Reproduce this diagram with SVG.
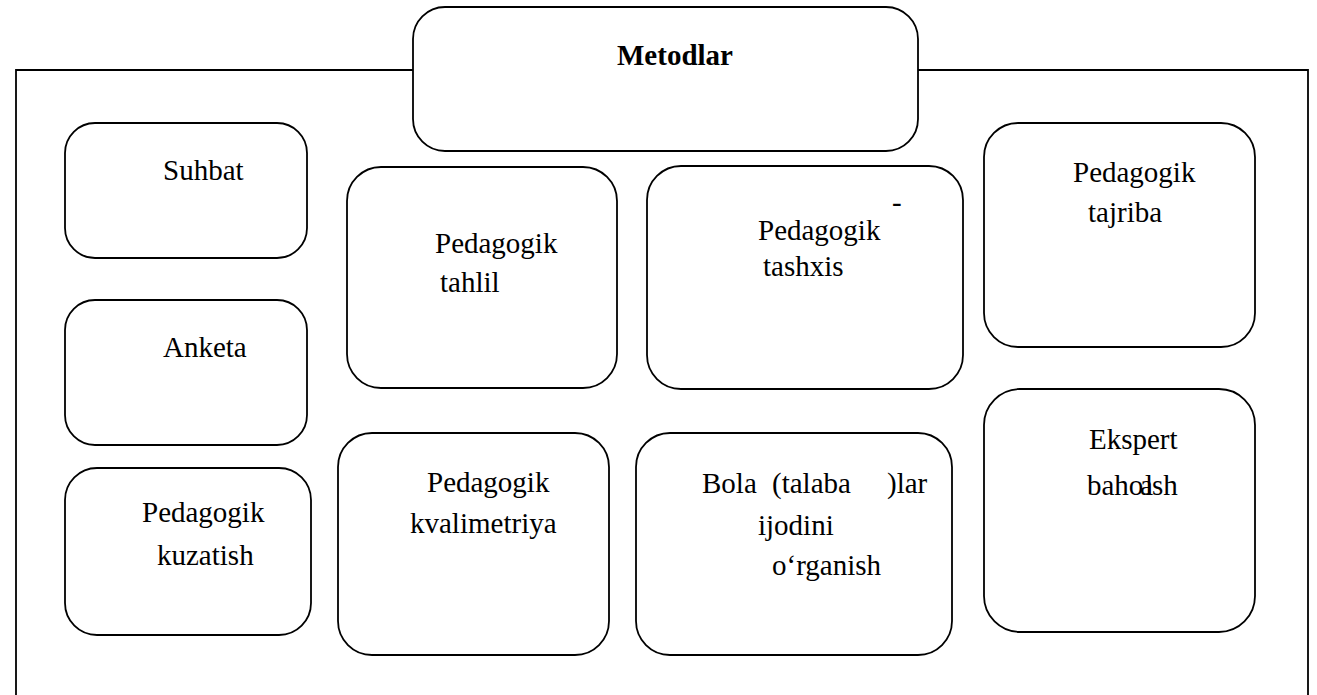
<svg xmlns="http://www.w3.org/2000/svg" width="1317" height="695" viewBox="0 0 1317 695">
<style>
.box{fill:#fff;stroke:#000;stroke-width:1.8}
.frame{fill:none;stroke:#000;stroke-width:1.8}
text{font-family:"Liberation Serif","Times New Roman",serif;font-size:29px;fill:#000}
.b{font-weight:bold}
</style>
<rect width="1317" height="695" fill="#fff"/>
<g id="connectors">
<polyline class="frame" points="413,70 16,70 16,695"/>
<polyline class="frame" points="918,70 1308,70 1308,695"/>
</g>
<g id="metodlar">
<rect class="box" x="413" y="7" width="505" height="144" rx="32"/>
<text class="b" x="617" y="65">Metodlar</text>
</g>
<g id="suhbat">
<rect class="box" x="65" y="123" width="242" height="135" rx="30"/>
<text x="163" y="180">Suhbat</text>
</g>
<g id="anketa">
<rect class="box" x="65" y="300" width="242" height="145" rx="30"/>
<text x="163" y="357">Anketa</text>
</g>
<g id="kuzatish">
<rect class="box" x="65" y="468" width="246" height="167" rx="32"/>
<text x="142" y="522">Pedagogik</text>
<text x="157" y="565">kuzatish</text>
</g>
<g id="tahlil">
<rect class="box" x="347" y="167" width="270" height="221" rx="34"/>
<text x="435" y="253">Pedagogik</text>
<text x="440" y="292">tahlil</text>
</g>
<g id="tashxis">
<rect class="box" x="647" y="166" width="316" height="223" rx="34"/>
<text x="758" y="240">Pedagogik</text>
<text x="892" y="212">-</text>
<text x="763" y="276">tashxis</text>
</g>
<g id="tajriba">
<rect class="box" x="984" y="123" width="271" height="224" rx="34"/>
<text x="1073" y="182">Pedagogik</text>
<text x="1088" y="222">tajriba</text>
</g>
<g id="kvalimetriya">
<rect class="box" x="338" y="433" width="271" height="222" rx="34"/>
<text x="427" y="492">Pedagogik</text>
<text x="410" y="533">kvalimetriya</text>
</g>
<g id="bola">
<rect class="box" x="636" y="433" width="316" height="222" rx="34"/>
<text x="702" y="493">Bola</text>
<text x="772" y="493">(talaba</text>
<text x="887" y="493">)lar</text>
<text x="758" y="535">ijodini</text>
<text x="772" y="575">o‘rganish</text>
</g>
<g id="ekspert">
<rect class="box" x="984" y="389" width="271" height="243" rx="36"/>
<text x="1089" y="449">Ekspert</text>
<text x="1087" y="495">baho<tspan x="1145">l</tspan><tspan x="1140">a</tspan><tspan x="1152">sh</tspan></text>
</g>
</svg>
